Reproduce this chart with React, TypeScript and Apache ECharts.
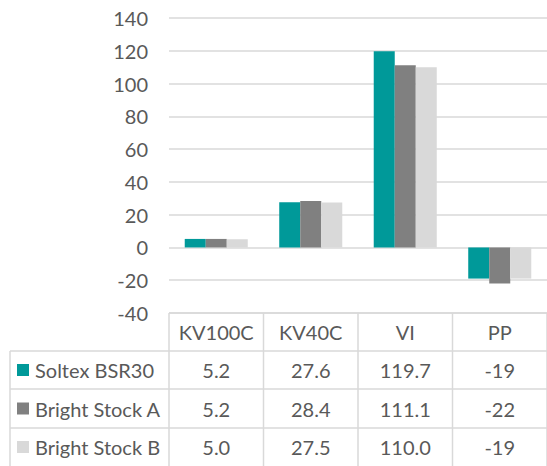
import React, { useEffect, useRef } from "react";
import * as echarts from "echarts";

const categories = ["KV100C", "KV40C", "VI", "PP"];
const seriesNames = ["Soltex BSR30", "Bright Stock A", "Bright Stock B"];
const soltex = [5.2, 27.6, 119.7, -19];
const brightA = [5.2, 28.4, 111.1, -22];
const brightB = [5.0, 27.5, 110.0, -19];
const tableLabels = [
  ["5.2", "27.6", "119.7", "-19"],
  ["5.2", "28.4", "111.1", "-22"],
  ["5.0", "27.5", "110.0", "-19"],
];
const colors = ["#009999", "#808080", "#d9d9d9"];

const W = 547;
const H = 466;
const FONT = "Lato, 'Open Sans', sans-serif";
const TXT = "#595959";
const LINE = "#d9d9d9";

export default function App() {
  const ref = useRef<HTMLDivElement>(null);
  useEffect(() => {
    if (!ref.current) return;
    const chart = echarts.init(ref.current, undefined, { renderer: "svg" });
    const plotLeft = 169;
    const plotRight = W;
    const plotTop = 18;
    const plotBottom = 313;
    const colW = (plotRight - plotLeft) / categories.length;
    const rowTops = [313, 351, 389, 428];
    const rowBottom = 470;
    const tableLeft = 10;

    const graphics: any[] = [];
    // horizontal lines
    graphics.push({ type: "line", shape: { x1: plotLeft, y1: rowTops[0], x2: plotRight, y2: rowTops[0] }, style: { stroke: LINE, lineWidth: 1.5 } });
    for (let r = 1; r < rowTops.length; r++) {
      graphics.push({ type: "line", shape: { x1: tableLeft, y1: rowTops[r], x2: plotRight, y2: rowTops[r] }, style: { stroke: LINE, lineWidth: 1.5 } });
    }
    // vertical lines
    graphics.push({ type: "line", shape: { x1: tableLeft, y1: rowTops[1], x2: tableLeft, y2: rowBottom }, style: { stroke: LINE, lineWidth: 1.5 } });
    for (let c = 0; c <= categories.length; c++) {
      const x = plotLeft + c * colW;
      graphics.push({ type: "line", shape: { x1: x, y1: rowTops[0], x2: x, y2: rowBottom }, style: { stroke: LINE, lineWidth: 1.5 } });
    }
    // header texts
    categories.forEach((cat, c) => {
      graphics.push({
        type: "text",
        x: plotLeft + (c + 0.5) * colW,
        y: (rowTops[0] + rowTops[1]) / 2,
        style: { text: cat, fill: TXT, font: `20px ${FONT}`, align: "center", verticalAlign: "middle" },
      });
    });
    // rows
    seriesNames.forEach((name, r) => {
      const top = rowTops[r + 1];
      const bot = r + 2 < rowTops.length ? rowTops[r + 2] : 466;
      const cy = (top + bot) / 2;
      graphics.push({ type: "rect", shape: { x: 17, y: cy - 6, width: 12, height: 12 }, style: { fill: colors[r] } });
      graphics.push({
        type: "text",
        x: 35,
        y: cy,
        style: { text: name, fill: TXT, font: `20px ${FONT}`, align: "left", verticalAlign: "middle" },
      });
      tableLabels[r].forEach((v, c) => {
        graphics.push({
          type: "text",
          x: plotLeft + (c + 0.5) * colW,
          y: cy,
          style: { text: v, fill: TXT, font: `20px ${FONT}`, align: "center", verticalAlign: "middle" },
        });
      });
    });

    const data = [soltex, brightA, brightB];
    chart.setOption({
      animation: false,
      backgroundColor: "#ffffff",
      grid: { left: plotLeft, right: W - plotRight, top: plotTop, bottom: H - plotBottom, containLabel: false },
      xAxis: {
        type: "category",
        data: categories,
        axisLine: { show: false },
        axisTick: { show: false },
        axisLabel: { show: false },
        splitLine: { show: false },
      },
      yAxis: {
        type: "value",
        min: -40,
        max: 140,
        interval: 20,
        axisLine: { show: false },
        axisTick: { show: false },
        axisLabel: { color: TXT, fontSize: 20, fontFamily: FONT, margin: 21 },
        splitLine: { lineStyle: { color: LINE, width: 1.5 } },
      },
      series: seriesNames.map((name, i) => ({
        name,
        type: "bar",
        data: data[i],
        itemStyle: { color: colors[i] },
        barGap: "0%",
        barCategoryGap: "33.3%",
      })),
      graphic: graphics,
    });
    return () => chart.dispose();
  }, []);
  return <div ref={ref} style={{ position: "fixed", left: 0, top: 0, width: W, height: H }} />;
}
